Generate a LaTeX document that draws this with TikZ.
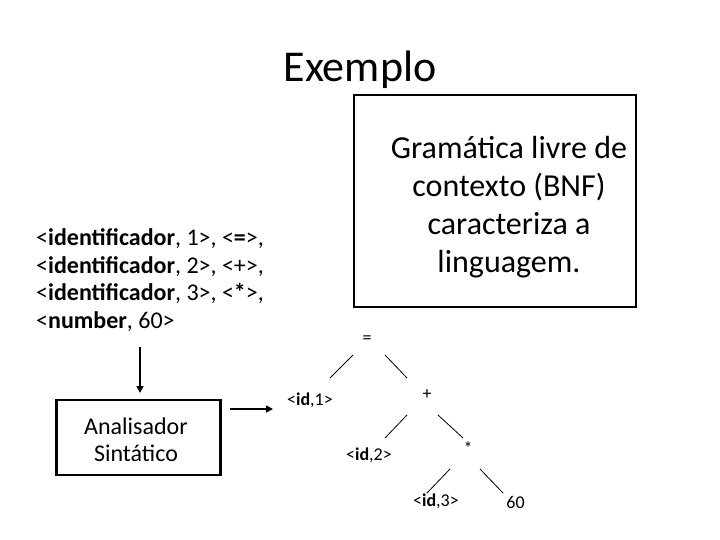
\documentclass[tikz,border=0pt]{standalone}
\usepackage{fontspec}
\setmainfont{Carlito}
\usetikzlibrary{arrows.meta}
\begin{document}
\begin{tikzpicture}[x=1pt,y=-1pt,
  treetxt/.style={font=\fontsize{18}{21}\selectfont, inner sep=0pt},
  edge/.style={line width=0.8pt},
  arr/.style={line width=1.6pt, -{Triangle[length=7pt,width=7pt]}},
  box/.style={draw, line width=2.2pt}]
\useasboundingbox (0,0) rectangle (720,540);
\node[anchor=base, font=\fontsize{44}{53}\selectfont, inner sep=0pt] (title) at (360,82) {Exemplo};
% grammar box
\node[draw, line width=2.5pt, minimum width=282pt, minimum height=212pt, inner sep=0pt] (gbox) at (495,201) {};
\node[align=center, font=\fontsize{32}{38}\selectfont, inner sep=0pt, anchor=base] (gtxt) at (509,272)
  {Gramática livre de\\contexto (BNF)\\caracteriza a\\linguagem.};
% tokens
\node[anchor=base west, align=left, inner sep=0pt, font=\fontsize{24}{27.5}\selectfont] (tok) at (36,328)
  {<\textbf{identificador}, 1>, <\textbf{=}>,\\<\textbf{identificador}, 2>, <+>,\\<\textbf{identificador}, 3>, <\textbf{*}>,\\<\textbf{number}, 60>};
% analyser
\node[box, minimum width=164pt, minimum height=75pt, inner sep=0pt] (an) at (138.5,437.5) {};
\node[anchor=base, align=center, inner sep=0pt, font=\fontsize{24}{27}\selectfont] (antxt) at (136,461)
  {Analisador\\Sintático};
\coordinate (vtop) at (140,347);
\coordinate (vend) at (140,393);
\draw[arr] (vtop) -- (vend);
\coordinate (hs) at (230,409);
\coordinate (he) at (273,409);
\draw[arr] (hs) -- (he);
% tree
\node[treetxt] (eq) at (367,340) {=};
\node[treetxt, anchor=base] (id1) at (310,405) {<\textbf{id},1>};
\node[treetxt] (plus) at (427,395) {+};
\node[treetxt, anchor=base] (id2) at (369,460) {<\textbf{id},2>};
\node[treetxt] (star) at (468,448) {*};
\node[treetxt, anchor=base] (id3) at (436,506) {<\textbf{id},3>};
\node[treetxt, anchor=base] (sixty) at (515.5,508) {60};
\coordinate (a1) at (353,355); \coordinate (a2) at (330,378);
\coordinate (b1) at (385,355); \coordinate (b2) at (407,378);
\coordinate (c1) at (407,415); \coordinate (c2) at (385,438);
\coordinate (d1) at (438,415); \coordinate (d2) at (463,438);
\coordinate (e1) at (450,469); \coordinate (e2) at (427,493);
\coordinate (f1) at (480,469); \coordinate (f2) at (503,493);
\draw[edge] (a1) -- (a2);
\draw[edge] (b1) -- (b2);
\draw[edge] (c1) -- (c2);
\draw[edge] (d1) -- (d2);
\draw[edge] (e1) -- (e2);
\draw[edge] (f1) -- (f2);
\end{tikzpicture}
\end{document}
